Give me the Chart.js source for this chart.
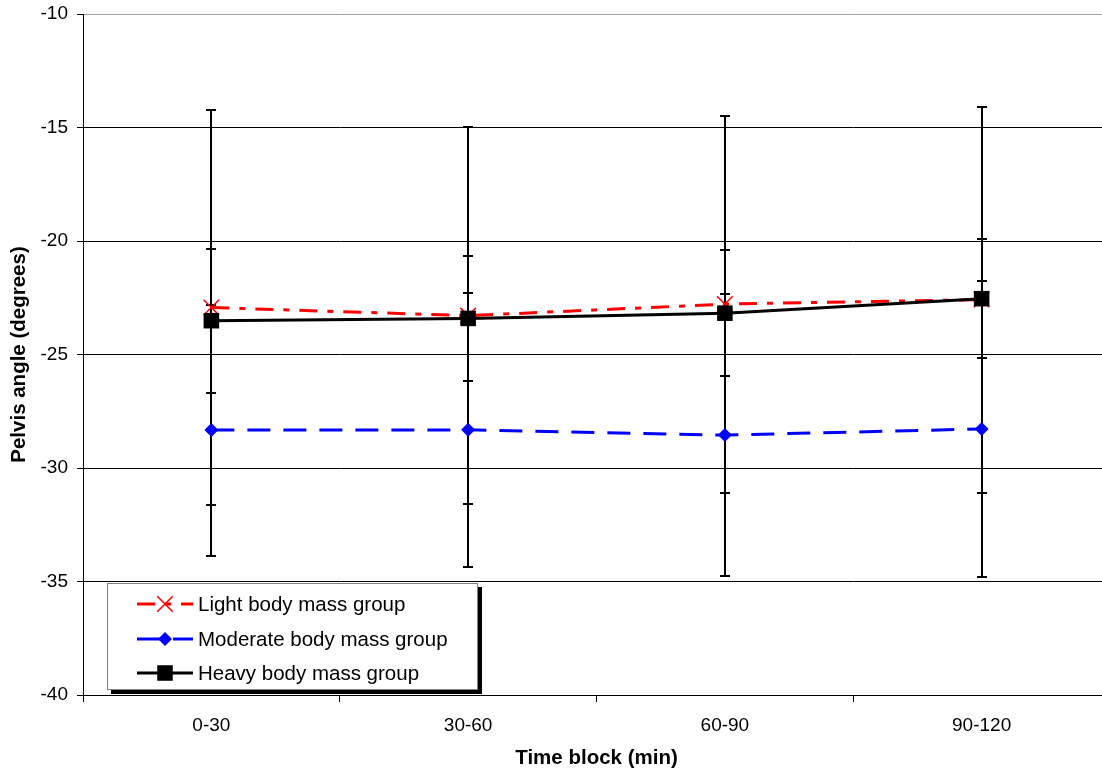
<!DOCTYPE html>
<html><head><meta charset="utf-8">
<script src="https://cdn.jsdelivr.net/npm/chart.js@4.4.1/dist/chart.umd.min.js"></script>
<style>
html,body{margin:0;padding:0;background:#fff;overflow:hidden;width:1102px;height:769px;}
#c{position:absolute;left:0;top:0;}
</style></head><body>
<canvas id="c" width="1110" height="769"></canvas>
<script>
const categories = ['0-30', '30-60', '60-90', '90-120'];
const seriesNames = ['Light body mass group', 'Moderate body mass group', 'Heavy body mass group'];
const lightMean = [-22.93, -23.29, -22.78, -22.58];
const lightSD = [8.7, 8.3, 8.3, 8.5];
const moderateMean = [-28.33, -28.32, -28.55, -28.28];
const moderateSD = [5.53, 6.03, 6.2, 6.53];
const heavyMean = [-23.51, -23.41, -23.18, -22.54];
const heavySD = [3.17, 2.76, 2.78, 2.63];
const yTicks = [-40, -35, -30, -25, -20, -15, -10];
const xTitle = 'Time block (min)';
const yTitle = 'Pelvis angle (degrees)';

Chart.defaults.font.family = '"Liberation Sans", Arial, sans-serif';
Chart.defaults.color = '#000';

const errorBars = {
  id: 'errorBars',
  beforeDatasetsDraw(chart) {
    const ctx = chart.ctx, ys = chart.scales.y;
    ctx.save();
    ctx.strokeStyle = '#000';
    ctx.lineWidth = 2;
    chart.data.datasets.forEach((ds, i) => {
      const meta = chart.getDatasetMeta(i);
      meta.data.forEach((pt, j) => {
        const m = ds.data[j], e = ds.errors[j];
        const x = Math.round(pt.x);
        const t = Math.round(ys.getPixelForValue(m + e)), b = Math.round(ys.getPixelForValue(m - e));
        ctx.beginPath();
        ctx.moveTo(x, t); ctx.lineTo(x, b);
        ctx.moveTo(x - 5, t); ctx.lineTo(x + 5, t);
        ctx.moveTo(x - 5, b); ctx.lineTo(x + 5, b);
        ctx.stroke();
      });
    });
    ctx.restore();
  }
};

const boxLegend = {
  id: 'boxLegend',
  afterDraw(chart) {
    const ctx = chart.ctx;
    const bx = 107, by = 583, bw = 371, bh = 107;
    ctx.save();
    ctx.fillStyle = '#000';
    ctx.fillRect(bx + 4, by + 4, bw, bh);
    ctx.fillStyle = '#fff';
    ctx.fillRect(bx, by, bw, bh);
    ctx.strokeStyle = '#808080';
    ctx.lineWidth = 1;
    ctx.strokeRect(bx + 0.5, by + 0.5, bw - 1, bh - 1);
    const rows = [604, 639, 673];
    chart.data.datasets.forEach((ds, i) => {
      const y = rows[i];
      ctx.save();
      ctx.strokeStyle = ds.borderColor;
      ctx.lineWidth = ds.borderWidth;
      ctx.setLineDash(ds.borderDash || []);
      ctx.beginPath();
      ctx.moveTo(137, y); ctx.lineTo(193, y);
      ctx.stroke();
      ctx.setLineDash([]);
      ctx.fillStyle = ds.pointBackgroundColor;
      ctx.strokeStyle = ds.pointBorderColor;
      ctx.lineWidth = ds.pointBorderWidth;
      Chart.helpers.drawPoint(ctx, {pointStyle: ds.pointStyle, radius: ds.pointRadius, rotation: 0, borderWidth: ds.pointBorderWidth}, 165, y);
      ctx.restore();
      ctx.fillStyle = '#000';
      ctx.font = '20.5px "Liberation Sans", Arial, sans-serif';
      ctx.textBaseline = 'middle';
      ctx.textAlign = 'left';
      ctx.fillText(ds.label, 198, y + 1);
    });
    ctx.restore();
  }
};

new Chart(document.getElementById('c'), {
  type: 'line',
  data: {
    labels: categories,
    datasets: [
      {label: seriesNames[0], data: lightMean, errors: lightSD, order: 2,
       borderColor: '#ff0000', backgroundColor: '#ff0000', borderWidth: 3, borderDash: [18, 10, 6, 10], borderCapStyle: 'butt',
       pointStyle: 'crossRot', pointRadius: 11, pointBorderWidth: 1.5, pointBorderColor: '#ff0000', pointBackgroundColor: '#ff0000', tension: 0},
      {label: seriesNames[1], data: moderateMean, errors: moderateSD, order: 1,
       borderColor: '#0000ff', backgroundColor: '#0000ff', borderWidth: 3, borderDash: [23, 13], borderCapStyle: 'butt',
       pointStyle: 'rectRot', pointRadius: 7, pointBorderWidth: 0, pointBorderColor: '#0000ff', pointBackgroundColor: '#0000ff', tension: 0},
      {label: seriesNames[2], data: heavyMean, errors: heavySD, order: 0,
       borderColor: '#000000', backgroundColor: '#000000', borderWidth: 3, borderDash: [], borderCapStyle: 'butt',
       pointStyle: 'rect', pointRadius: 11, pointBorderWidth: 0, pointBorderColor: '#000000', pointBackgroundColor: '#000000', tension: 0}
    ]
  },
  options: {
    responsive: false,
    devicePixelRatio: 1,
    animation: false,
    layout: {autoPadding: false, padding: {top: 14, right: 0, left: 0, bottom: 0}},
    plugins: {legend: {display: false}, tooltip: {enabled: false}},
    scales: {
      x: {
        type: 'category', offset: true,
        grid: {offset: true, drawOnChartArea: false, color: '#000', tickLength: 7},
        border: {color: '#000', width: 1},
        ticks: {color: '#000', font: {size: 19}, padding: 12, maxRotation: 0},
        title: {display: true, text: xTitle, color: '#000', font: {size: 20.5, weight: 'bold', lineHeight: 1.0}, padding: 0},
        afterFit(s) { s.height = 74; s.paddingLeft = 0; s.paddingRight = 0; }
      },
      y: {
        min: -40, max: -10,
        afterBuildTicks(s) { s.ticks = yTicks.map(v => ({value: v})); },
        ticks: {color: '#000', font: {size: 19}, padding: 9},
        grid: {color: c => (c.tick && c.tick.value === -10) ? '#a0a0a0' : '#000', tickColor: '#000', tickLength: 6, lineWidth: 1},
        border: {color: '#000', width: 1},
        title: {display: true, text: yTitle, color: '#000', font: {size: 20.5, weight: 'bold'}, padding: {top: 7, bottom: 0}},
        afterFit(s) { s.width = 83; s.paddingTop = 0; s.paddingBottom = 0; }
      }
    }
  },
  plugins: [errorBars, boxLegend]
});
</script>
</body></html>
